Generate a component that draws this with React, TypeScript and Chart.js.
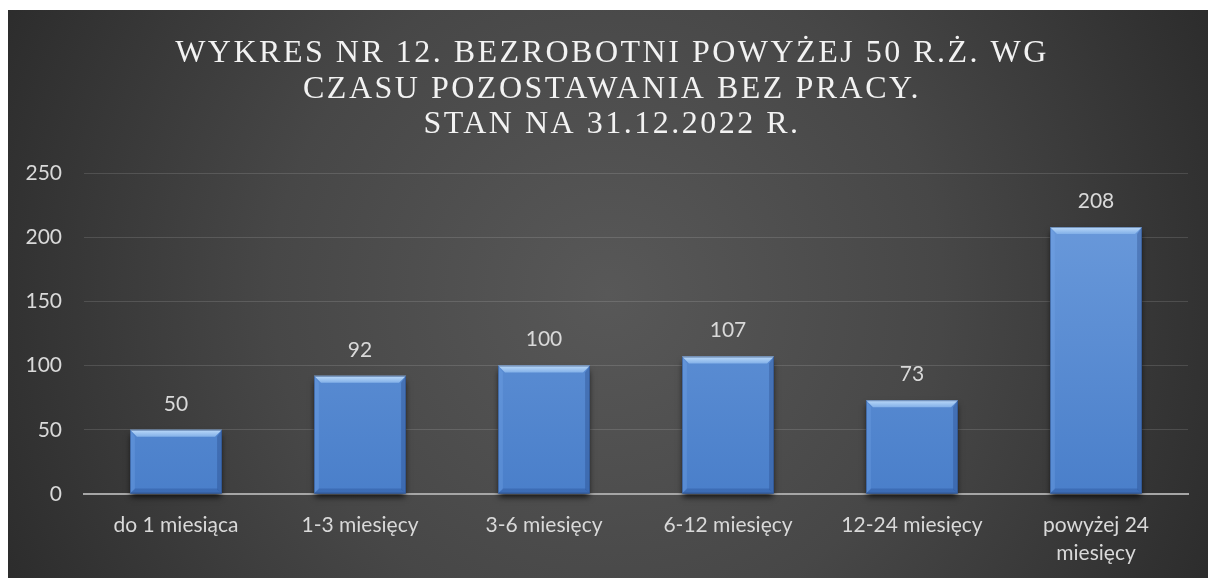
import React, { useEffect, useRef } from "react";
import { Chart, registerables } from "chart.js";

Chart.register(...registerables);

const categories: (string | string[])[] = [
  "do 1 miesiąca",
  "1-3 miesięcy",
  "3-6 miesięcy",
  "6-12 miesięcy",
  "12-24 miesięcy",
  ["powyżej 24", "miesięcy"],
];
const values: number[] = [50, 92, 100, 107, 73, 208];
const titleLines: string[] = [
  "WYKRES NR 12. BEZROBOTNI POWYŻEJ 50 R.Ż. WG",
  "CZASU POZOSTAWANIA BEZ PRACY.",
  "STAN NA 31.12.2022 R.",
];
const yMin = 0;
const yMax = 250;
const yStep = 50;

const LABEL_FONT = "Lato, 'Open Sans', sans-serif";
const LABEL_SIZE = 21;

const backgroundPlugin = {
  id: "bgPlugin",
  beforeDraw(chart: any) {
    const { ctx, width, height } = chart;
    ctx.save();
    const g = ctx.createRadialGradient(width / 2, height * 0.5, 0, width / 2, height * 0.5, width * 0.62);
    g.addColorStop(0, "#585858");
    g.addColorStop(0.45, "#474747");
    g.addColorStop(1, "#262626");
    ctx.fillStyle = g;
    ctx.fillRect(0, 0, width, height);
    ctx.restore();
  },
};

const titlePlugin = {
  id: "titlePlugin",
  afterDraw(chart: any) {
    const { ctx, width } = chart;
    ctx.save();
    ctx.fillStyle = "#f2f2f2";
    ctx.font = "32px 'Liberation Serif', 'DejaVu Serif', serif";
    ctx.textAlign = "center";
    ctx.textBaseline = "alphabetic";
    (ctx as any).letterSpacing = "2.5px";
    const baselines = [52, 87.5, 123];
    titleLines.forEach((t, i) => {
      ctx.fillText(t, width / 2 + 4, baselines[i]);
    });
    ctx.restore();
  },
};

const barStylePlugin = {
  id: "barStyle",
  beforeDatasetsDraw(chart: any) {
    const { ctx } = chart;
    const meta = chart.getDatasetMeta(0);
    ctx.save();
    meta.data.forEach((bar: any) => {
      const x0 = bar.x - bar.width / 2;
      ctx.shadowColor = "rgba(0,0,0,0.75)";
      ctx.shadowBlur = 6;
      ctx.shadowOffsetY = 3;
      ctx.fillStyle = "#3a5f94";
      ctx.fillRect(x0 + 1, bar.y + 2, bar.width - 2, bar.base - bar.y - 2);
    });
    ctx.restore();
  },
  afterDatasetsDraw(chart: any) {
    const { ctx } = chart;
    const meta = chart.getDatasetMeta(0);
    ctx.save();
    meta.data.forEach((bar: any, i: number) => {
      const x0 = bar.x - bar.width / 2;
      const x1 = bar.x + bar.width / 2;
      const y0 = bar.y;
      const y1 = bar.base;
      const b = 7;
      const tg = ctx.createLinearGradient(0, y0, 0, y0 + b);
      tg.addColorStop(0, "#bcdaf9");
      tg.addColorStop(1, "#82b0e8");
      ctx.fillStyle = tg;
      ctx.beginPath();
      ctx.moveTo(x0, y0);
      ctx.lineTo(x1, y0);
      ctx.lineTo(x1 - b, y0 + b);
      ctx.lineTo(x0 + b, y0 + b);
      ctx.closePath();
      ctx.fill();
      ctx.fillStyle = "rgba(120,170,235,0.3)";
      ctx.beginPath();
      ctx.moveTo(x0, y0);
      ctx.lineTo(x0 + b * 0.7, y0 + b);
      ctx.lineTo(x0 + b * 0.7, y1 - 4);
      ctx.lineTo(x0, y1);
      ctx.closePath();
      ctx.fill();
      ctx.fillStyle = "rgba(30,60,120,0.3)";
      ctx.beginPath();
      ctx.moveTo(x1, y0);
      ctx.lineTo(x1 - b * 0.7, y0 + b);
      ctx.lineTo(x1 - b * 0.7, y1 - 4);
      ctx.lineTo(x1, y1);
      ctx.closePath();
      ctx.fill();
      ctx.fillStyle = "rgba(40,80,150,0.4)";
      ctx.beginPath();
      ctx.moveTo(x0, y1);
      ctx.lineTo(x0 + b * 0.7, y1 - 5);
      ctx.lineTo(x1 - b * 0.7, y1 - 5);
      ctx.lineTo(x1, y1);
      ctx.closePath();
      ctx.fill();
      ctx.strokeStyle = "rgba(40,70,120,0.5)";
      ctx.lineWidth = 1;
      ctx.strokeRect(x0 + 0.5, y0 + 0.5, bar.width - 1, y1 - y0 - 1);

      ctx.fillStyle = "#d9d9d9";
      ctx.font = `${LABEL_SIZE}px ${LABEL_FONT}`;
      ctx.textAlign = "center";
      ctx.textBaseline = "middle";
      ctx.fillText(String(values[i]), bar.x, y0 - 26);
    });
    ctx.restore();
  },
};

export default function App() {
  const canvasRef = useRef<HTMLCanvasElement | null>(null);

  useEffect(() => {
    if (!canvasRef.current) return;
    const chart = new Chart(canvasRef.current, {
      type: "bar",
      data: {
        labels: categories,
        datasets: [
          {
            data: values,
            backgroundColor: (c: any) => {
              const ca = c.chart.chartArea;
              if (!ca) return "#5286cf";
              const g = c.chart.ctx.createLinearGradient(0, ca.top, 0, ca.bottom);
              g.addColorStop(0, "#6e9ddd");
              g.addColorStop(1, "#4a7fca");
              return g;
            },
            borderWidth: 0,
            categoryPercentage: 1,
            barPercentage: 0.5,
          },
        ],
      },
      options: {
        animation: false,
        responsive: false,
        maintainAspectRatio: false,
        layout: { padding: { top: 163, left: 0, right: 20, bottom: 0 } },
        plugins: {
          legend: { display: false },
          title: { display: false },
          tooltip: { enabled: false },
        },
        scales: {
          x: {
            grid: { display: false, drawTicks: false },
            border: { display: true, color: "#a6a6a6", width: 2 },
            ticks: {
              color: "#d9d9d9",
              font: { family: LABEL_FONT, size: LABEL_SIZE, lineHeight: 28 / LABEL_SIZE },
              padding: 17,
              maxRotation: 0,
              autoSkip: false,
            },
            afterFit: (scale: any) => {
              scale.height = 84;
            },
          },
          y: {
            min: yMin,
            max: yMax,
            grid: { color: "rgba(255,255,255,0.13)", lineWidth: 1, drawTicks: false },
            border: { display: false },
            ticks: {
              stepSize: yStep,
              color: "#d9d9d9",
              font: { family: LABEL_FONT, size: LABEL_SIZE },
              padding: 22,
            },
            afterFit: (scale: any) => {
              scale.width = 76;
            },
          },
        },
      },
      plugins: [backgroundPlugin, barStylePlugin, titlePlugin],
    });
    return () => chart.destroy();
  }, []);

  return (
    <div style={{ position: "absolute", left: 8, top: 10, width: 1200, height: 568 }}>
      <canvas ref={canvasRef} width={1200} height={568} style={{ display: "block" }} />
    </div>
  );
}
